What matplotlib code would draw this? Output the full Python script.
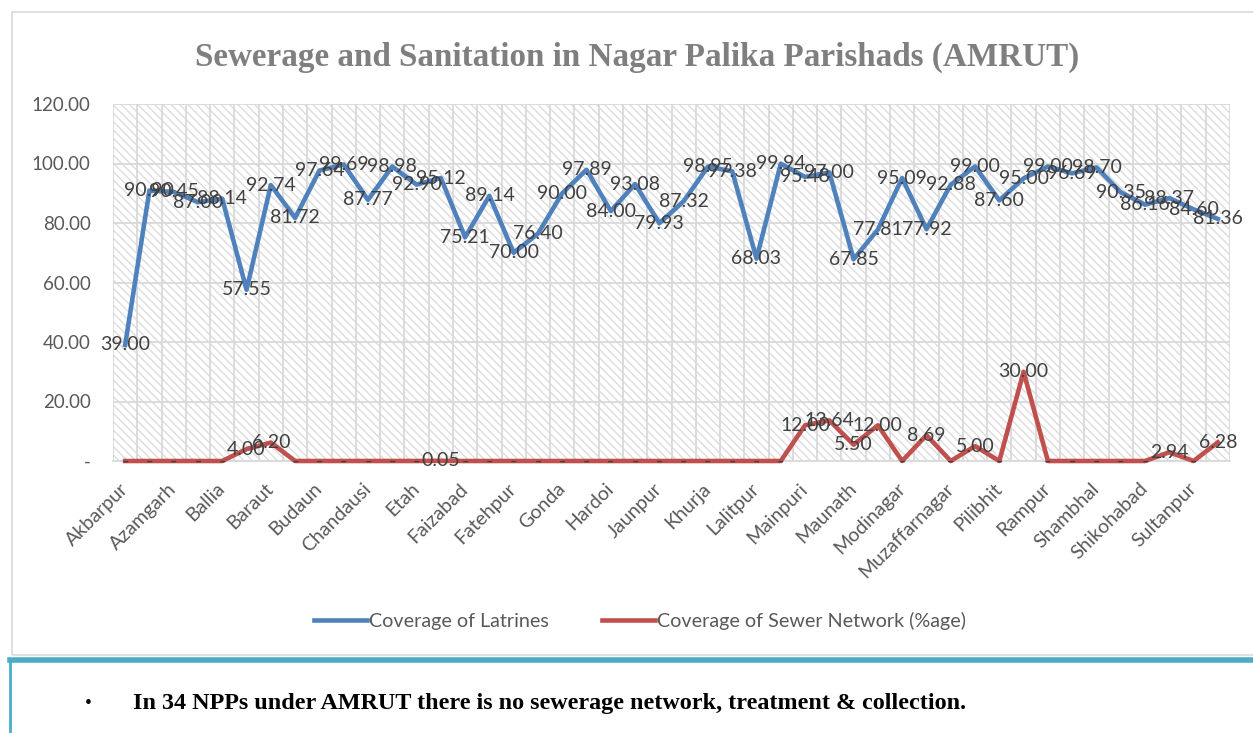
"""Sewerage and sanitation coverage chart for Nagar Palika Parishads (AMRUT)."""

import matplotlib

matplotlib.use("Agg")
import matplotlib.pyplot as plt
from matplotlib.patches import Rectangle
from matplotlib.lines import Line2D
from matplotlib.ticker import FixedLocator, FuncFormatter

# every other category is labelled on the axis, as in the source chart
TICK_LABELS = [
    "Akbarpur", "Azamgarh", "Ballia", "Baraut", "Budaun", "Chandausi", "Etah",
    "Faizabad", "Fatehpur", "Gonda", "Hardoi", "Jaunpur", "Khurja", "Lalitpur",
    "Mainpuri", "Maunath", "Modinagar", "Muzaffarnagar", "Pilibhit", "Rampur",
    "Shambhal", "Shikohabad", "Sultanpur",
]

latrines = [
    39.00, 90.90, 90.45, 87.00, 88.14, 57.55, 92.74, 81.72, 97.64, 99.69,
    87.77, 98.98, 92.90, 95.12, 75.21, 89.14, 70.00, 76.40, 90.00, 97.89,
    84.00, 93.08, 79.93, 87.32, 98.95, 97.38, 68.03, 99.94, 95.48, 97.00,
    67.85, 77.81, 95.09, 77.92, 92.88, 99.00, 87.60, 95.00, 99.00, 96.69,
    98.70, 90.35, 86.16, 88.37, 84.60, 81.36,
]

sewer = [
    0, 0, 0, 0, 0, 4.00, 6.20, 0, 0, 0,
    0, 0, 0, 0.05, 0, 0, 0, 0, 0, 0,
    0, 0, 0, 0, 0, 0, 0, 0, 12.00, 13.64,
    5.50, 12.00, 0, 8.69, 0, 5.00, 0, 30.00, 0, 0,
    0, 0, 0, 2.94, 0, 6.28,
]

COLORS = {
    "blue": "#4f81bd",
    "red": "#c0504d",
    "grid": "#d9d9d9",
    "hatch": "#dcdcdc",
    "text": "#595959",
    "label": "#404040",
    "title": "#7f7f7f",
    "teal": "#4bacc6",
}

SANS = ["Lato", "DejaVu Sans"]
SERIF = ["Liberation Serif", "DejaVu Serif"]

plt.rcParams["hatch.linewidth"] = 1.0

W, H = 1253, 733
fig = plt.figure(figsize=(W / 100, H / 100), dpi=100)
fig.patch.set_facecolor("white")

# outer chart frame
fig.patches.append(
    Rectangle((12 / W, 1 - 655 / H), (W - 10) / W, (655 - 12) / H,
              transform=fig.transFigure, fill=False, ec=COLORS["grid"], lw=1.2)
)

left, right, bottom, top = 113, 1230, 461, 104
ax = fig.add_axes([left / W, 1 - bottom / H, (right - left) / W, (bottom - top) / H])

n = len(latrines)
x = list(range(n))
ax.set_xlim(-0.5, n - 0.5)
ax.set_ylim(0, 120)

# hatched plot area
ax.add_patch(
    Rectangle((0, 0), 1, 1, transform=ax.transAxes, facecolor="white",
              edgecolor=COLORS["hatch"], hatch="\\\\\\\\", lw=0, zorder=0)
)

ax.yaxis.set_major_locator(FixedLocator([0, 20, 40, 60, 80, 100, 120]))
ax.yaxis.set_major_formatter(FuncFormatter(lambda v, _: "-" if v == 0 else f"{v:.2f}"))
ax.set_xticks(x[::2])
ax.set_xticklabels(TICK_LABELS, rotation=45, ha="right", va="center",
                   rotation_mode="anchor", family=SANS, fontsize=14, color=COLORS["text"])
ax.xaxis.set_minor_locator(FixedLocator([i - 0.5 for i in range(n + 1)]))
ax.tick_params(axis="both", which="both", length=0)
ax.tick_params(axis="x", pad=18)
ax.tick_params(axis="y", pad=16, labelsize=13.5, labelcolor=COLORS["text"])
for lab in ax.get_yticklabels():
    lab.set_family(SANS)

ax.grid(axis="y", which="major", color=COLORS["grid"], lw=1.3, zorder=1)
ax.grid(axis="x", which="minor", color=COLORS["grid"], lw=1.3, zorder=1)
for name, spine in ax.spines.items():
    spine.set_visible(name == "bottom")
ax.spines["bottom"].set_color(COLORS["grid"])
ax.spines["bottom"].set_linewidth(1.3)
ax.set_axisbelow(True)

ax.plot(x, latrines, color=COLORS["blue"], lw=3.3, zorder=3, clip_on=False,
        solid_joinstyle="round")
ax.plot(x, sewer, color=COLORS["red"], lw=3.3, zorder=3, clip_on=False,
        solid_joinstyle="round")

for series in (latrines, sewer):
    for xi, v in zip(x, series):
        ax.text(xi, v, "-" if v == 0 else f"{v:.2f}", ha="center", va="center",
                family=SANS, fontsize=14, color=COLORS["label"], zorder=4, clip_on=False)

fig.text(637 / W, 1 - 57 / H, "Sewerage and Sanitation in Nagar Palika Parishads (AMRUT)",
         ha="center", va="center", family=SERIF, fontweight="bold", fontsize=23.9,
         color=COLORS["title"])

handles = [
    Line2D([], [], color=COLORS["blue"], lw=3.3),
    Line2D([], [], color=COLORS["red"], lw=3.3),
]
fig.legend(handles, ["Coverage of Latrines", "Coverage of Sewer Network (%age)"],
           loc="center", bbox_to_anchor=(640 / W, 1 - 621 / H), ncol=2, frameon=False,
           handlelength=2.7, handletextpad=0.1, columnspacing=2.7,
           prop={"family": SANS, "size": 14.2}, labelcolor=COLORS["text"])

# note box under the chart
fig.add_artist(Line2D([10 / W, 1], [1 - 660 / H, 1 - 660 / H], transform=fig.transFigure,
                      color=COLORS["teal"], lw=4))
fig.add_artist(Line2D([10 / W, 10 / W], [1 - 660 / H, 0], transform=fig.transFigure,
                      color=COLORS["teal"], lw=2))
fig.text(85 / W, 1 - 703 / H, "\u2022", ha="left", va="center", family=SERIF,
         fontsize=14, color="black")
fig.text(133 / W, 1 - 703 / H,
         "In 34 NPPs under AMRUT there is no sewerage network, treatment & collection.",
         ha="left", va="center", family=SERIF, fontweight="bold", fontsize=17.4,
         color="black")

fig.savefig("out.png", dpi=100)
plt.close(fig)
